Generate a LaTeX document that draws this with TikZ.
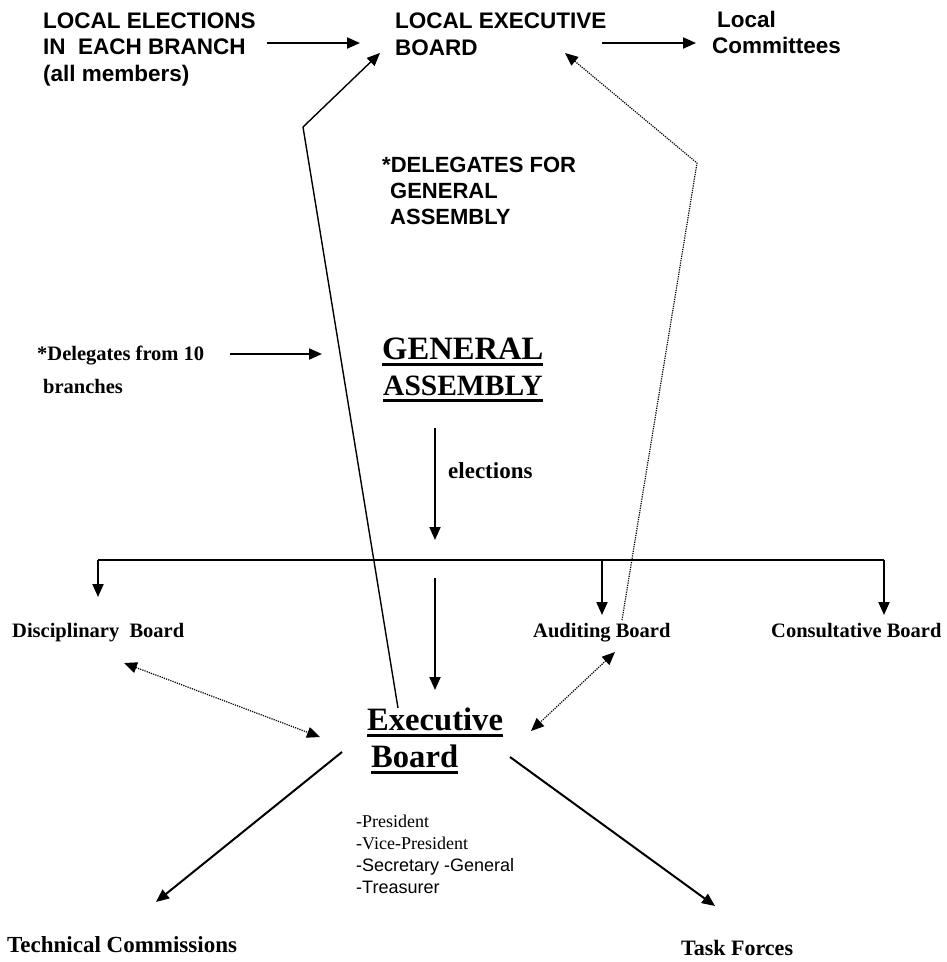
\documentclass[tikz,border=0pt]{standalone}
\usepackage{fontspec}
\setmainfont{Liberation Serif}
\newfontfamily\arialf{Liberation Sans}
\usetikzlibrary{arrows.meta}
\newsavebox\ulbox
\newcommand{\thickul}[1]{\sbox\ulbox{#1}\rlap{\rule[-6.5pt]{\wd\ulbox}{3pt}}\usebox\ulbox}
\begin{document}
\begin{tikzpicture}[x=1pt,y=-1pt,
  txt/.style={inner sep=0pt, anchor=base west, align=left},
  sansb/.style={txt, font=\arialf\bfseries\fontsize{22.5}{26.5}\selectfont},
  serb/.style={txt, font=\bfseries\fontsize{20.5}{24}\selectfont},
  bigb/.style={txt, font=\bfseries\fontsize{32.6}{36}\selectfont},
  tipA/.tip={Triangle[length=13pt,width=11pt]},
  arr/.style={line width=2pt, -tipA},
  thinarr/.style={line width=1.4pt, -tipA},
  dotline/.style={line width=1.2pt, dash pattern=on 1.2pt off 1.1pt},
  plain/.style={line width=2pt}
]
\useasboundingbox (0,0) rectangle (946,962);

% top row (multi-line nodes: base = last line)
\node[sansb] (le) at (43,81) {LOCAL ELECTIONS\\IN\ \ EACH BRANCH\\(all members)};
\node[sansb] (leb) at (395,55) {LOCAL EXECUTIVE\\BOARD};
\node[sansb, font=\arialf\bfseries\fontsize{22.5}{25.5}\selectfont] (lc) at (712,53) {\hspace{5pt}Local\\Committees};
\node[sansb, font=\arialf\bfseries\fontsize{22}{26}\selectfont] (del) at (382,224) {*DELEGATES FOR\\\hspace{8pt}GENERAL\\\hspace{8pt}ASSEMBLY};

% middle
\node[serb, font=\bfseries\fontsize{20.5}{33}\selectfont] (d10) at (37,393) {*Delegates from 10\\\hspace{6pt}branches};
\node[bigb] (gen) at (382,359) {\thickul{GENERAL}};
\node[bigb, font=\bfseries\fontsize{29.5}{36}\selectfont] (asm) at (383,395) {\thickul{ASSEMBLY}};
\node[serb, font=\bfseries\fontsize{23}{26}\selectfont] (elec) at (448,478) {elections};

% boards
\node[serb] (disc) at (12,637) {Disciplinary\ \ Board};
\node[serb] (aud) at (533,637) {Auditing Board};
\node[serb] (cons) at (771,637) {Consultative Board};

% executive board
\node[bigb] (exe) at (367,730) {\thickul{Executive}};
\node[bigb] (brd) at (371,767) {\thickul{Board}};
\node[txt, font=\fontsize{18}{21.7}\selectfont] (off) at (356,893) {-President\\-Vice-President\\{\arialf -Secretary -General}\\{\arialf -Treasurer}};

% bottom
\node[serb, font=\bfseries\fontsize{23}{26}\selectfont] (tc) at (7,952) {Technical Commissions};
\node[serb, font=\bfseries\fontsize{22}{26}\selectfont] (tf) at (681,955) {Task Forces};

% connector coordinates
\coordinate (a1s) at (267,43); \coordinate (a1e) at (360,43);
\coordinate (a2s) at (602,43); \coordinate (a2e) at (696,43);
\coordinate (p0) at (398,708); \coordinate (p1) at (303,127); \coordinate (p2) at (380,53);
\coordinate (q0) at (622,620); \coordinate (q1) at (697,163); \coordinate (q2) at (565,53);
\coordinate (dls) at (230,354); \coordinate (dle) at (322,354);
\coordinate (gas) at (435,428); \coordinate (gae) at (435,540);
\coordinate (hL) at (98,560); \coordinate (hA) at (602,560); \coordinate (hR) at (884,560);
\coordinate (tL) at (98,597); \coordinate (tA) at (602,615); \coordinate (tR) at (884,615);
\coordinate (ebs) at (435,578); \coordinate (ebe) at (435,690);
\coordinate (dd1) at (124,663); \coordinate (dd2) at (320,737);
\coordinate (ad1) at (615,652); \coordinate (ad2) at (531,731);
\coordinate (tcs) at (342,752); \coordinate (tce) at (156,902);
\coordinate (tfs) at (510,757); \coordinate (tfe) at (715,906);

\draw[arr] (a1s) -- (a1e);
\draw[arr] (a2s) -- (a2e);
\draw[thinarr] (p0) -- (p1) -- (p2);
\draw[dotline, -tipA] (q0) -- (q1) -- (q2);
\draw[arr] (dls) -- (dle);
\draw[arr] (gas) -- (gae);
\draw[plain] (hL) -- (hR);
\draw[arr] (hL) -- (tL);
\draw[arr] (hA) -- (tA);
\draw[arr] (hR) -- (tR);
\draw[arr] (ebs) -- (ebe);
\draw[dotline, tipA-tipA] (dd1) -- (dd2);
\draw[dotline, tipA-tipA] (ad1) -- (ad2);
\draw[arr] (tcs) -- (tce);
\draw[arr] (tfs) -- (tfe);
\end{tikzpicture}
\end{document}
